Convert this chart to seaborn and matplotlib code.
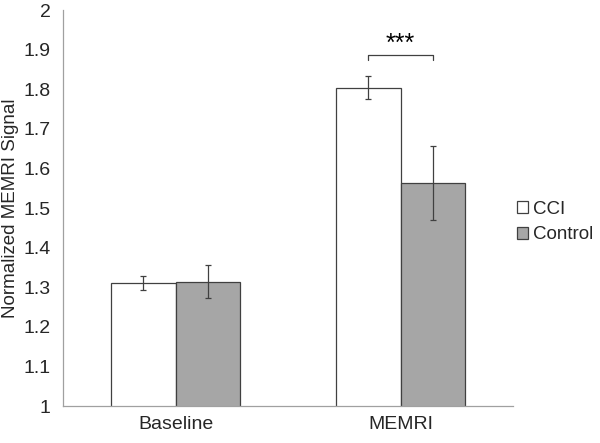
import numpy as np
import pandas as pd
import matplotlib
matplotlib.use("Agg")
import matplotlib.pyplot as plt
import seaborn as sns

phases = ["Baseline", "MEMRI"]
groups = ["CCI", "Control"]
cci_mean = [1.311, 1.804]
cci_err = [0.017, 0.029]
control_mean = [1.314, 1.564]
control_err = [0.042, 0.093]

df = pd.DataFrame({
    "Phase": phases * 2,
    "Group": ["CCI"] * 2 + ["Control"] * 2,
    "Signal": cci_mean + control_mean,
    "Err": cci_err + control_err,
})

sns.set_style("white")
plt.rcParams["font.family"] = ["Liberation Sans", "DejaVu Sans"]

fig = plt.figure(figsize=(6, 4.43), dpi=100)
ax = fig.add_axes([0.105, 0.0835, 0.75, 0.8935])

sns.barplot(data=df, x="Phase", y="Signal", hue="Group", order=phases,
            hue_order=groups, palette=["white", "#a6a6a6"], width=0.573,
            edgecolor="#404040", linewidth=0.9, errorbar=None, ax=ax)

# error bars at bar centres
for bars, g in zip(ax.containers, groups):
    sub = df[df["Group"] == g].set_index("Phase").loc[phases]
    xs = [b.get_x() + b.get_width() / 2 for b in bars]
    ax.errorbar(xs, sub["Signal"], yerr=sub["Err"], fmt="none",
                ecolor="#404040", elinewidth=0.9, capsize=2.5, capthick=0.9)

ax.set_ylim(1, 2)
ax.set_xlim(-0.5, 1.5)
ax.set_yticks(np.arange(1, 2.01, 0.1))
ax.set_yticklabels(["1", "1.1", "1.2", "1.3", "1.4", "1.5", "1.6", "1.7", "1.8", "1.9", "2"])
ax.set_xticks([-0.5, 0.5, 1.5], minor=True)
ax.tick_params(axis="x", which="major", length=0, labelsize=14, pad=7)
ax.tick_params(axis="x", which="minor", length=5, color="#a0a0a0", width=0.9)
ax.tick_params(axis="y", length=5, color="#a0a0a0", width=0.9, labelsize=14, pad=4)
ax.set_xlabel("")
ax.set_ylabel("Normalized MEMRI Signal", fontsize=13.5, labelpad=3)
for s in ["top", "right"]:
    ax.spines[s].set_visible(False)
for s in ["left", "bottom"]:
    ax.spines[s].set_color("#a0a0a0")
    ax.spines[s].set_linewidth(0.9)

# significance bracket
cci_x = ax.containers[0][1].get_x() + ax.containers[0][1].get_width() / 2
ctl_x = ax.containers[1][1].get_x() + ax.containers[1][1].get_width() / 2
ax.plot([cci_x, cci_x, ctl_x, ctl_x], [1.873, 1.886, 1.886, 1.873],
        color="#404040", lw=0.9)
ax.text((cci_x + ctl_x) / 2, 1.884, "***", ha="center", va="bottom", fontsize=18,
        color="black")

leg = ax.legend(loc="center left", bbox_to_anchor=(1.0, 0.465), frameon=False,
                fontsize=13.5, handlelength=0.6, handleheight=0.6, handletextpad=0.25,
                labelspacing=0.45, borderaxespad=0, borderpad=0.2)

fig.savefig("out.png", dpi=100)
